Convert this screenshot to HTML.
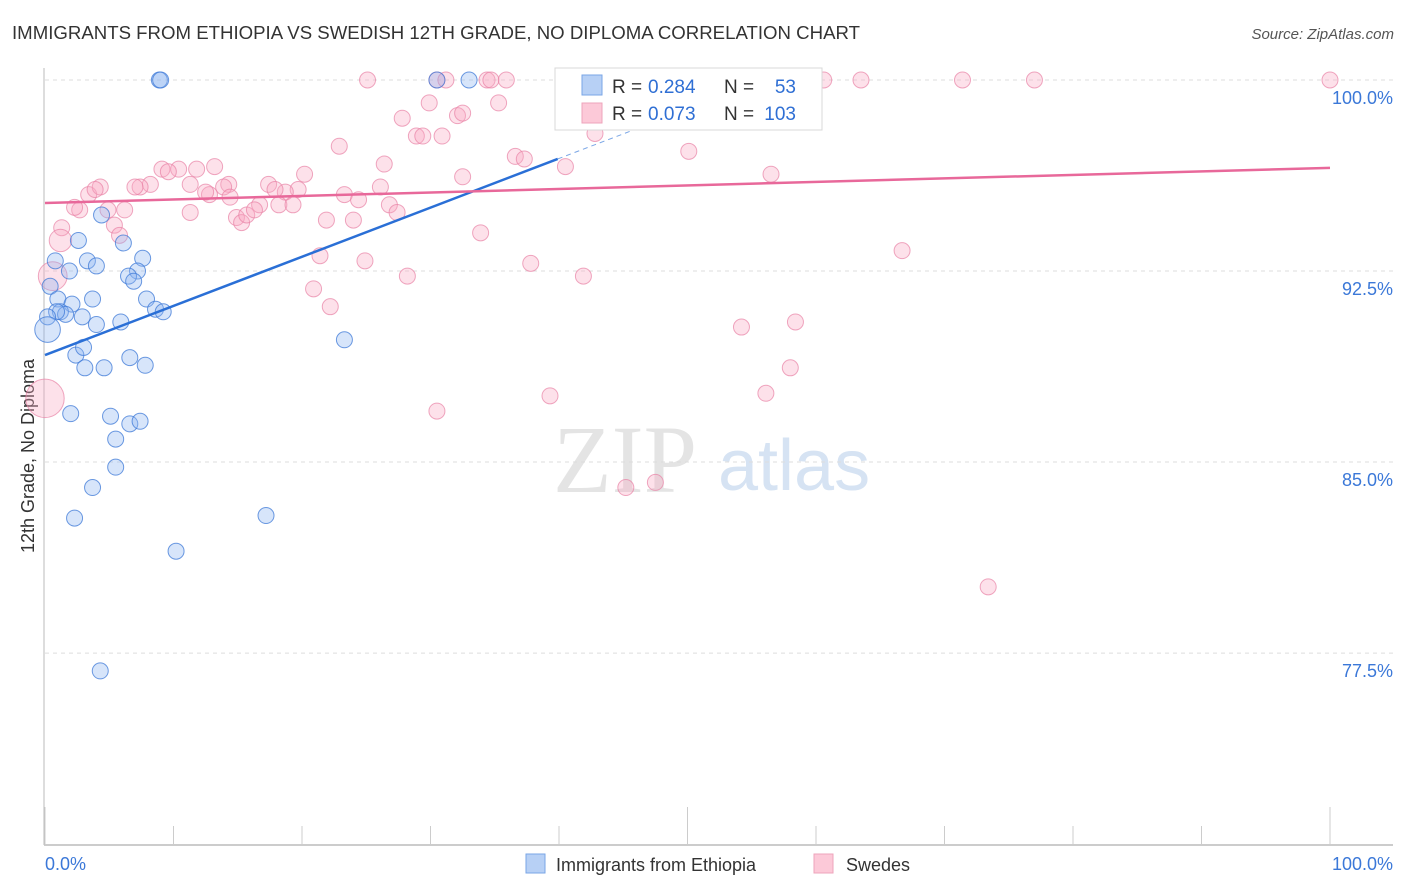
<!DOCTYPE html>
<html><head><meta charset="utf-8"><style>
body{margin:0;background:#fff;font-family:"Liberation Sans",sans-serif;}
</style></head><body>
<svg id="chart" width="1406" height="892" xmlns="http://www.w3.org/2000/svg" style="display:block">
<text x="12" y="39" font-size="18" fill="#333" textLength="848" lengthAdjust="spacingAndGlyphs">IMMIGRANTS FROM ETHIOPIA VS SWEDISH 12TH GRADE, NO DIPLOMA CORRELATION CHART</text>
<text x="1394" y="39" font-size="15" fill="#555" text-anchor="end" font-style="italic">Source: ZipAtlas.com</text>
<text transform="translate(34,456) rotate(-90)" font-size="18" fill="#333" text-anchor="middle">12th Grade, No Diploma</text>
<g>
<text x="553" y="492" font-size="96" font-family="Liberation Serif,serif" fill="#e4e4e4">ZIP</text>
<text x="718" y="490" font-size="72" fill="#d6e3f3">atlas</text>
</g>
<g id="grid"></g>
<g id="axes"></g>
<g id="pts"></g>
<g id="lines"></g>
<g>
<rect x="555" y="68" width="267" height="62" fill="#fff" stroke="#d8d8d8"/>
<rect x="582" y="75" width="20" height="20" fill="#b7d0f5" stroke="#7aa6e6"/>
<rect x="582" y="103" width="20" height="20" fill="#fcc9d8" stroke="#eea4bb"/>
<text x="612" y="93" font-size="19" fill="#333">R =</text>
<text x="648" y="93" font-size="19" fill="#2f6fd4">0.284</text>
<text x="724" y="93" font-size="19" fill="#333">N =</text>
<text x="796" y="93" font-size="19" fill="#2f6fd4" text-anchor="end">53</text>
<text x="612" y="120" font-size="19" fill="#333">R =</text>
<text x="648" y="120" font-size="19" fill="#2f6fd4">0.073</text>
<text x="724" y="120" font-size="19" fill="#333">N =</text>
<text x="796" y="120" font-size="19" fill="#2f6fd4" text-anchor="end">103</text>
</g>
<g>
<rect x="526" y="854" width="19" height="19" fill="#b7d0f5" stroke="#7aa6e6"/>
<text x="556" y="871" font-size="18" fill="#333">Immigrants from Ethiopia</text>
<rect x="814" y="854" width="19" height="19" fill="#fcc9d8" stroke="#eea4bb"/>
<text x="846" y="871" font-size="18" fill="#333">Swedes</text>
</g>
</svg>
<script>
const NS="http://www.w3.org/2000/svg";
const yTicks=[100,92.5,85,77.5];
const yTickLabels=["100.0%","92.5%","85.0%","77.5%"];
const xTickLabels=["0.0%","100.0%"];
const blueX=[8.9,9.0,30.5,33.0,2.6,4.4,6.1,0.8,3.3,7.6,1.9,4.0,7.2,6.5,6.9,0.4,1.0,3.7,2.1,7.9,1.2,1.6,0.9,2.9,4.0,5.9,8.6,9.2,0.2,0.2,23.3,2.4,3.0,6.6,3.1,4.6,7.8,2.0,5.1,6.6,7.4,5.5,5.5,3.7,2.3,17.2,10.2,4.3];
const blueY=[100,100,100,100,93.7,94.7,93.6,92.9,92.9,93.0,92.5,92.7,92.5,92.3,92.1,91.9,91.4,91.4,91.2,91.4,90.9,90.8,90.9,90.7,90.4,90.5,91.0,90.9,90.7,90.2,89.8,89.2,89.5,89.1,88.7,88.7,88.8,86.9,86.8,86.5,86.6,85.9,84.8,84.0,82.8,82.9,81.5,76.8];
const blueSize=[1,1,1,1,1,1,1,1,1,1,1,1,1,1,1,1,1,1,1,1,1,1,1,1,1,1,1,1,1,1.6,1,1,1,1,1,1,1,1,1,1,1,1,1,1,1,1,1,1];
const pinkX=[25.1,30.5,31.2,34.4,34.7,35.9,41.1,41.3,47.5,47.9,50.7,60.6,63.5,71.4,77.0,100,27.8,29.9,32.1,32.5,35.3,28.9,29.4,30.9,22.9,26.4,20.2,13.2,10.4,9.1,9.6,11.8,11.3,8.2,7.4,7.0,3.4,4.3,3.9,2.7,2.3,4.9,6.2,1.3,1.2,5.4,5.8,17.4,19.7,18.7,17.9,14.3,13.9,12.8,14.4,12.5,16.7,18.2,19.3,14.9,15.3,15.7,16.3,23.3,24.4,26.1,26.8,27.4,21.9,24.0,32.5,36.6,37.3,40.5,42.8,50.1,56.5,33.9,37.8,41.9,28.2,21.4,20.9,22.2,24.9,66.7,54.2,58.4,39.3,30.5,56.1,58.0,45.2,47.5,73.4,0.6,0.0,11.3];
const pinkY=[100,100,100,100,100,100,100,100,100,100,100,100,100,100,100,100,98.5,99.1,98.6,98.7,99.1,97.8,97.8,97.8,97.4,96.7,96.3,96.6,96.5,96.5,96.4,96.5,95.9,95.9,95.8,95.8,95.5,95.8,95.7,94.9,95.0,94.9,94.9,94.2,93.7,94.3,93.9,95.9,95.7,95.6,95.7,95.9,95.8,95.5,95.4,95.6,95.1,95.1,95.1,94.6,94.4,94.7,94.9,95.5,95.3,95.8,95.1,94.8,94.5,94.5,96.2,97.0,96.9,96.6,97.9,97.2,96.3,94.0,92.8,92.3,92.3,93.1,91.8,91.1,92.9,93.3,90.3,90.5,87.6,87.0,87.7,88.7,84.0,84.2,80.1,92.3,87.5,94.8];
const pinkSize=pinkX.map((v,i)=>i===44?1.4:(i===95?1.8:(i===96?2.4:1)));
const blueTrend=[89.2,96.9]; const blueTrendEnd=39.9;
const pinkTrend=[95.17,96.55];
const X=v=>45+v*12.85, Y=v=>80+(100-v)*25.47;
function mk(tag,attrs,parent){const e=document.createElementNS(NS,tag);for(const k in attrs)e.setAttribute(k,attrs[k]);parent.appendChild(e);return e;}
const grid=document.getElementById('grid'),axes=document.getElementById('axes'),pts=document.getElementById('pts'),lines=document.getElementById('lines');
yTicks.forEach((t,i)=>{
 const l=mk('line',{x1:45,x2:1393,y1:Y(t),y2:Y(t),stroke:'#ddd','stroke-dasharray':'4,4'},grid);
 
 
 const tx=mk('text',{x:1393,y:Y(t)+24,'font-size':18,fill:'#3b78d8','text-anchor':'end'},grid);
 tx.textContent=yTickLabels[i];
 
 
});
const ax=mk('line',{x1:44,x2:44,y1:68,y2:845,stroke:'#bbb'},axes);


const bx=mk('line',{x1:44,x2:1393,y1:845,y2:845,stroke:'#bbb','stroke-width':1.5},axes);


for(let i=0;i<=10;i++){
 const tk=mk('line',{x1:X(i*10),x2:X(i*10),y1:(i%5===0)?807:826,y2:845,stroke:'#ccc'},axes);
 
 
}
[[0,'start'],[100,'end']].forEach((p,i)=>{
 const t=mk('text',{x:i?1393:45,y:870,'font-size':18,fill:'#3b78d8','text-anchor':p[1]},axes);
 t.textContent=xTickLabels[i];
 
 
});
function dots(xs,ys,ss,fill,stroke,name){
 xs.forEach((v,i)=>{
  const c=mk('circle',{cx:X(v),cy:Y(ys[i]),r:8*ss[i],fill:fill,stroke:stroke,'stroke-width':1},pts);
  
  
 });
}
dots(pinkX,pinkY,pinkSize,'rgba(248,170,195,0.35)','rgba(232,130,165,0.7)','swedes-point');
dots(blueX,blueY,blueSize,'rgba(140,180,240,0.35)','rgba(60,120,215,0.75)','ethiopia-point');
const slope=(blueTrend[1]-blueTrend[0])/blueTrendEnd;
const bl=mk('line',{x1:X(0),y1:Y(blueTrend[0]),x2:X(blueTrendEnd),y2:Y(blueTrend[1]),stroke:'#2a6fd6','stroke-width':2.5},lines);


const xe=(100-blueTrend[0])/slope;
const bd=mk('line',{x1:X(blueTrendEnd),y1:Y(blueTrend[1]),x2:X(xe),y2:Y(100),stroke:'#7aa6e6','stroke-width':1,'stroke-dasharray':'5,4'},lines);


const pl=mk('line',{x1:X(0),y1:Y(pinkTrend[0]),x2:X(100),y2:Y(pinkTrend[1]),stroke:'#e8689a','stroke-width':2.5},lines);


</script>
</body></html>
